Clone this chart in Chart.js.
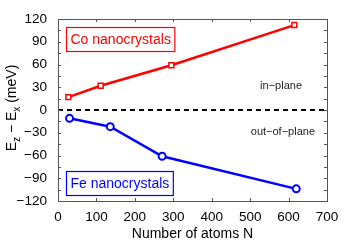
<!DOCTYPE html>
<html>
<head>
<meta charset="utf-8">
<script src="https://cdn.jsdelivr.net/npm/chart.js@4.4.0/dist/chart.umd.min.js"></script>
<style>
  html, body { margin: 0; padding: 0; background: #fff; }
  #wrap { width: 361px; height: 243px; }
</style>
</head>
<body>
<div id="wrap"><canvas id="myChart" width="361" height="243"></canvas></div>
<script>
// data
const coAtoms = [27, 111, 295, 615];
const coEnergy = [17, 32, 59, 112];
const feAtoms = [30, 136, 271, 620];
const feEnergy = [-11, -22, -61, -104];
const xTicks = [0, 100, 200, 300, 400, 500, 600, 700];
const yTicks = [-120, -90, -60, -30, 0, 30, 60, 90, 120];

const FONT = '"Liberation Sans", Arial, sans-serif';
const minus = v => String(v).replace('-', '\u2212');

const toXY = (xs, ys) => xs.map((x, i) => ({ x: x, y: ys[i] }));

// frame, inward ticks, boxed labels, y title with subscripts
const decor = {
  id: 'decor',
  afterDraw(chart) {
    const ctx = chart.ctx;
    const a = chart.chartArea;
    const sx = chart.scales.x, sy = chart.scales.y;
    ctx.save();
    ctx.strokeStyle = '#555';
    ctx.lineWidth = 1;
    ctx.strokeRect(a.left + 0.5, a.top + 0.5, a.right - a.left, a.bottom - a.top);
    ctx.beginPath();
    xTicks.forEach(v => {
      const px = Math.round(sx.getPixelForValue(v)) + 0.5;
      ctx.moveTo(px, a.bottom); ctx.lineTo(px, a.bottom - 3);
      ctx.moveTo(px, a.top); ctx.lineTo(px, a.top + 3);
    });
    for (let v = -120; v <= 120; v += 15) {
      const py = Math.round(sy.getPixelForValue(v)) + 0.5;
      ctx.moveTo(a.left, py); ctx.lineTo(a.left + 3, py);
      ctx.moveTo(a.right, py); ctx.lineTo(a.right - 3, py);
    }
    ctx.stroke();

    // boxed legends
    ctx.font = '14px ' + FONT;
    ctx.textBaseline = 'middle';
    const box = (text, color, x, y) => {
      const w = ctx.measureText(text).width + 8;
      ctx.strokeStyle = color;
      ctx.lineWidth = 1.2;
      ctx.fillStyle = '#fff';
      ctx.fillRect(x, y, w, 24);
      ctx.strokeRect(x, y, w, 24);
      ctx.fillStyle = color;
      ctx.fillText(text, x + 4, y + 12.5);
    };
    box('Co nanocrystals', '#ff0000', 66.5, 27.5);
    box('Fe nanocrystals', '#0000ff', 66.5, 171.5);

    ctx.font = '11px ' + FONT;
    ctx.fillStyle = '#222';
    ctx.textAlign = 'right';
    ctx.fillText('in\u2212plane', 302, 86);
    ctx.fillText('out\u2212of\u2212plane', 315, 132);

    // y axis title: E_z − E_x (meV)
    const parts = [
      ['E', 14, 0], ['z', 10, 4], [' \u2212 E', 14, 0], ['x', 10, 4], [' (meV)', 14, 0]
    ];
    let total = 0;
    parts.forEach(p => { ctx.font = p[1] + 'px ' + FONT; total += ctx.measureText(p[0]).width; });
    ctx.translate(11, 108);
    ctx.rotate(-Math.PI / 2);
    ctx.textAlign = 'left';
    ctx.textBaseline = 'alphabetic';
    ctx.fillStyle = '#000';
    let cx = -total / 2;
    parts.forEach(p => {
      ctx.font = p[1] + 'px ' + FONT;
      ctx.fillText(p[0], cx, 5 + p[2]);
      cx += ctx.measureText(p[0]).width;
    });
    ctx.restore();
  }
};

new Chart(document.getElementById('myChart'), {
  type: 'scatter',
  data: {
    datasets: [
      {
        label: 'zero',
        data: [{ x: 0, y: 0 }, { x: 700, y: 0 }],
        showLine: true,
        borderColor: '#000',
        borderWidth: 2,
        borderDash: [5, 4],
        pointRadius: 0
      },
      {
        label: 'Co nanocrystals',
        data: toXY(coAtoms, coEnergy),
        showLine: true,
        borderColor: '#ff0000',
        borderWidth: 2.5,
        pointStyle: 'rect',
        pointRadius: 3.5,
        pointBorderWidth: 1.5,
        pointBackgroundColor: '#fff',
        pointBorderColor: '#ff0000'
      },
      {
        label: 'Fe nanocrystals',
        data: toXY(feAtoms, feEnergy),
        showLine: true,
        borderColor: '#0000ff',
        borderWidth: 2.5,
        pointStyle: 'circle',
        pointRadius: 3.5,
        pointBorderWidth: 2,
        pointBackgroundColor: '#fff',
        pointBorderColor: '#0000ff'
      }
    ]
  },
  options: {
    responsive: false,
    animation: false,
    layout: { padding: { left: 0, right: 34, top: 19, bottom: 0 } },
    plugins: { legend: { display: false }, tooltip: { enabled: false } },
    scales: {
      x: {
        type: 'linear',
        min: 0, max: 700,
        afterBuildTicks: s => { s.ticks = xTicks.map(v => ({ value: v })); },
        afterFit: s => { s.height = 42; },
        grid: { display: false },
        border: { display: false },
        ticks: { color: '#000', font: { family: FONT, size: 13.5 }, padding: 0, maxRotation: 0 },
        title: { display: true, text: 'Number of atoms N', color: '#000', font: { family: FONT, size: 14 }, padding: { top: 1, bottom: 0 } }
      },
      y: {
        type: 'linear',
        min: -120, max: 120,
        afterBuildTicks: s => { s.ticks = yTicks.map(v => ({ value: v })); },
        afterFit: s => { s.width = 58; },
        grid: { display: false },
        border: { display: false },
        ticks: { color: '#000', font: { family: FONT, size: 13.5 }, padding: 3, callback: v => minus(v) }
      }
    }
  },
  plugins: [decor]
});
</script>
</body>
</html>
